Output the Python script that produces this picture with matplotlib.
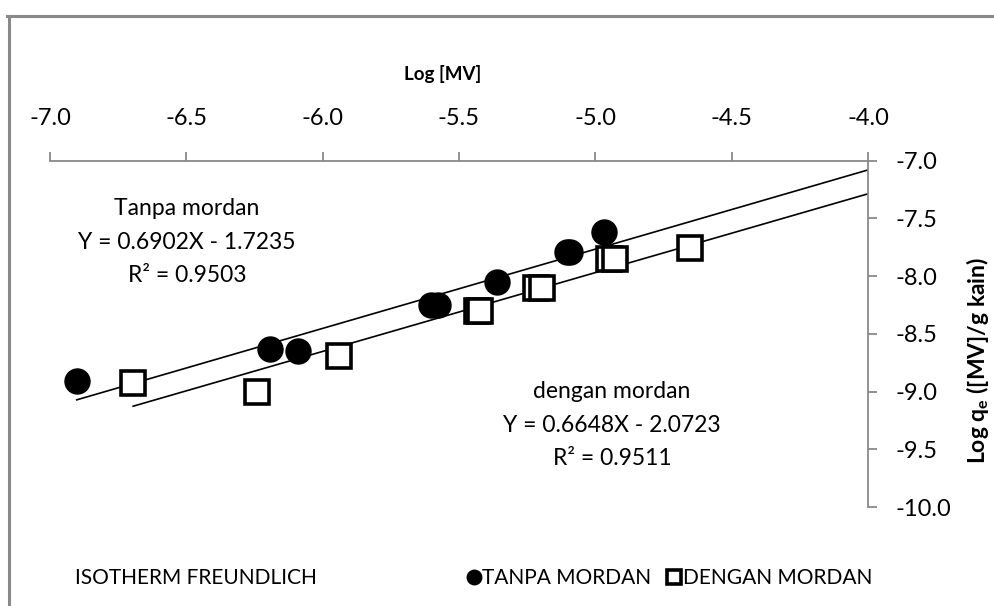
import numpy as np
import matplotlib
matplotlib.use('Agg')
import matplotlib.pyplot as plt
from matplotlib.lines import Line2D

# font settings
plt.rcParams['font.family'] = ['Lato', 'DejaVu Sans']
plt.rcParams['mathtext.fontset'] = 'custom'
plt.rcParams['mathtext.rm'] = 'Lato'
plt.rcParams['mathtext.bf'] = 'Lato:bold'

# data
tanpa_x = [-6.902, -6.193, -6.090, -5.603, -5.577, -5.362, -5.104, -5.093, -4.968]
tanpa_y = [-8.912, -8.632, -8.652, -8.248, -8.248, -8.047, -7.794, -7.794, -7.614]
dengan_x = [-6.695, -6.241, -5.940, -5.435, -5.424, -5.218, -5.194, -4.949, -4.927, -4.653]
dengan_y = [-8.926, -9.004, -8.690, -8.305, -8.305, -8.101, -8.101, -7.850, -7.850, -7.755]

x_ticks = [-7.0, -6.5, -6.0, -5.5, -5.0, -4.5, -4.0]
y_ticks = [-7.0, -7.5, -8.0, -8.5, -9.0, -9.5, -10.0]
trend_end = -4.0

label_tanpa = 'TANPA MORDAN'
label_dengan = 'DENGAN MORDAN'
note_tanpa = 'Tanpa mordan\nY = 0.6902X - 1.7235\nR\u00b2 = 0.9503'
note_dengan = 'dengan mordan\nY = 0.6648X - 2.0723\nR\u00b2 = 0.9511'

W, H = 995, 606
def fx(p):
    return p / W
def fy(p):
    return 1 - p / H

grey = '#898989'
fig = plt.figure(figsize=(W / 100, H / 100), dpi=100)

# chart area border (cut at right/bottom)
fig.add_artist(Line2D([fx(8.5), fx(8.5)], [0, fy(16)], color=grey, lw=2.2))
fig.add_artist(Line2D([fx(7.5), 1], [fy(16), fy(16)], color=grey, lw=2.2))

ax = fig.add_axes([fx(50), fy(507), (868 - 50) / W, (507 - 160.7) / H])

# scatter points
ax.plot(tanpa_x, tanpa_y, 'o', color='black', markersize=18, label=label_tanpa, zorder=3)
ax.plot(dengan_x, dengan_y, 's', mfc='white', mec='black', mew=2.6, markersize=17,
        label=label_dengan, zorder=3)

# linear trendlines (forward to x = -4)
for xs, ys in [(tanpa_x, tanpa_y), (dengan_x, dengan_y)]:
    k, b = np.polyfit(xs, ys, 1)
    xx = np.array([min(xs), trend_end])
    ax.plot(xx, k * xx + b, '-', color='black', lw=1.2, zorder=2)

ax.set_xlim(-7, -4)
ax.set_ylim(-10, -7)
ax.set_xticks(x_ticks)
ax.set_yticks(y_ticks)
ax.set_xticklabels([f'{v:.1f}' for v in x_ticks])
ax.set_yticklabels([f'{v:.1f}' for v in y_ticks])
ax.xaxis.tick_top()
ax.yaxis.tick_right()
for s in ['left', 'bottom']:
    ax.spines[s].set_visible(False)
for s in ['top', 'right']:
    ax.spines[s].set_color(grey)
    ax.spines[s].set_linewidth(1.3)
ax.tick_params(axis='x', direction='out', length=6.5, width=1.3, color=grey,
               labelsize=17, pad=16.5)
ax.tick_params(axis='y', direction='out', length=6.5, width=1.3, color=grey,
               labelsize=17, pad=13)
ax.patch.set_alpha(0)

# axis titles
fig.text(fx(443), fy(74), 'Log [MV]', ha='center', va='center', fontsize=13.5,
         fontweight='bold')
fig.text(fx(978), fy(360), r'Log q$_\mathbf{e}$ ([MV]/g kain)', ha='center',
         va='center', rotation=90, fontsize=16.5, fontweight='bold')

# trendline equations
fig.text(fx(187), fy(242), note_tanpa, ha='center', va='center', fontsize=16.5,
         linespacing=1.75, multialignment='center')
fig.text(fx(612), fy(425), note_dengan, ha='center', va='center', fontsize=16.5,
         linespacing=1.75, multialignment='center')

# title + legend at the bottom
fig.text(fx(196), fy(578), 'ISOTHERM FREUNDLICH', ha='center', va='center', fontsize=15)
ax.legend(loc='center', bbox_to_anchor=(fx(670), fy(578)), bbox_transform=fig.transFigure,
          ncol=2, frameon=False, fontsize=15, markerscale=0.58,
          handlelength=0.6, handletextpad=0.1, columnspacing=0.8)

fig.savefig('out.png', dpi=100)
